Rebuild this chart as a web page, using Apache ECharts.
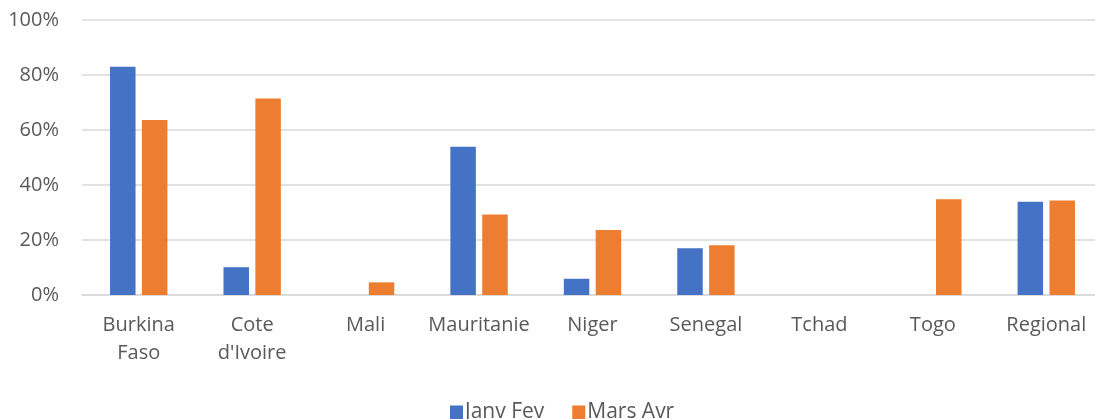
<!DOCTYPE html>
<html>
<head>
<meta charset="utf-8">
<script src="https://cdn.jsdelivr.net/npm/echarts@6/dist/echarts.min.js"></script>
<style>
    html, body { margin: 0; padding: 0; background: #fff; overflow: hidden; }
    #chart { width: 1103px; height: 419px; }
</style>
</head>
<body>
<div id="chart"></div>
<script>
const categories = ['Burkina\nFaso', "Cote\nd'Ivoire", 'Mali', 'Mauritanie', 'Niger', 'Senegal', 'Tchad', 'Togo', 'Regional'];
const janvFev = [83.0, 10.1, 0, 53.9, 5.9, 17.0, 0, 0, 33.9];
const marsAvr = [63.6, 71.5, 4.6, 29.3, 23.6, 18.1, 0, 34.8, 34.4];
const seriesNames = ['Janv Fev', 'Mars Avr'];

const font = '"Open Sans", "Noto Sans", sans-serif';
const textColor = '#595959';

const chartInstance = echarts.init(document.getElementById('chart'));

chartInstance.setOption({
    animation: false,
    color: ['#4472C4', '#ED7D31'],
    textStyle: { fontFamily: font },
    grid: {
        left: 82,
        right: 0,
        top: 20,
        bottom: 124
    },
    legend: {
        data: seriesNames,
        left: 445,
        top: 397,
        itemWidth: 13,
        itemHeight: 14,
        itemGap: 28,
        icon: 'rect',
        textStyle: { color: textColor, fontSize: 21, fontFamily: font, padding: [0, 0, 0, -3] }
    },
    xAxis: {
        type: 'category',
        data: categories,
        axisLine: { lineStyle: { color: '#d9d9d9', width: 1.5 } },
        axisTick: { show: false },
        axisLabel: {
            color: textColor,
            fontSize: 20,
            fontFamily: font,
            lineHeight: 28,
            margin: 16,
            interval: 0
        }
    },
    yAxis: {
        type: 'value',
        min: 0,
        max: 100,
        interval: 20,
        axisLine: { show: false },
        axisTick: { show: false },
        splitLine: { lineStyle: { color: '#d9d9d9', width: 1.5 } },
        axisLabel: {
            color: textColor,
            fontSize: 20,
            fontFamily: font,
            margin: 23,
            formatter: '{value}%'
        }
    },
    series: [
        {
            name: seriesNames[0],
            type: 'bar',
            data: janvFev,
            barWidth: 25.5,
            barGap: '25%'
        },
        {
            name: seriesNames[1],
            type: 'bar',
            data: marsAvr,
            barWidth: 25.5,
            barGap: '25%'
        }
    ]
});
</script>
</body>
</html>
